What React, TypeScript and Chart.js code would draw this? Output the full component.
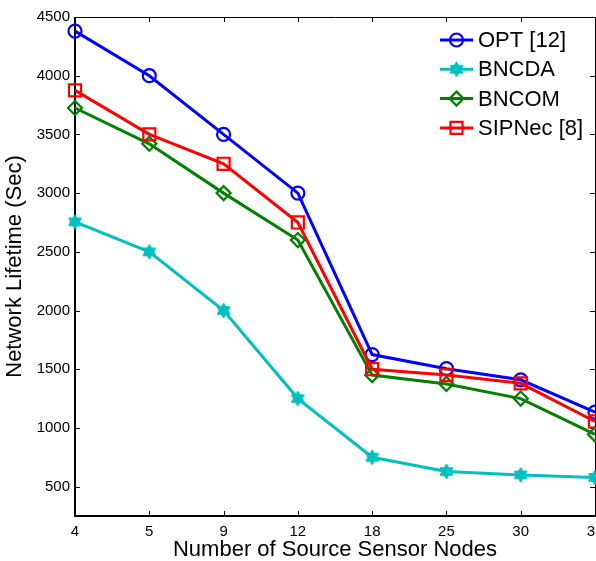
import React, { useEffect, useRef } from 'react';
import { Chart, registerables } from 'chart.js';
import { drawPoint } from 'chart.js/helpers';

Chart.register(...registerables);

const categories = ['4', '5', '9', '12', '18', '25', '30', '35'];
const optValues = [4380, 4000, 3500, 3000, 1625, 1505, 1410, 1135];
const bncdaValues = [2755, 2500, 2000, 1250, 750, 630, 600, 578];
const bncomValues = [3725, 3420, 3000, 2600, 1450, 1375, 1250, 945];
const sipnecValues = [3875, 3500, 3250, 2750, 1500, 1450, 1380, 1055];
const yTickValues = [500, 1000, 1500, 2000, 2500, 3000, 3500, 4000, 4500];
const seriesLabels = ['OPT [12]', 'BNCDA', 'BNCOM', 'SIPNec [8]'];
const xTitle = 'Number of Source Sensor Nodes';
const yTitle = 'Network Lifetime (Sec)';

const FONT = "Arial, 'Liberation Sans', sans-serif";

function makeHexagram(color: string, r: number): HTMLCanvasElement {
  const c = document.createElement('canvas');
  const size = Math.ceil(2 * r + 2);
  c.width = size;
  c.height = size;
  const ctx = c.getContext('2d')!;
  ctx.fillStyle = color;
  ctx.strokeStyle = color;
  ctx.lineWidth = 1;
  const cx = size / 2;
  const cy = size / 2;
  for (const start of [-90, 90]) {
    ctx.beginPath();
    for (let k = 0; k < 3; k++) {
      const a = ((start + k * 120) * Math.PI) / 180;
      const x = cx + r * Math.cos(a);
      const y = cy + r * Math.sin(a);
      if (k === 0) ctx.moveTo(x, y);
      else ctx.lineTo(x, y);
    }
    ctx.closePath();
    ctx.fill();
    ctx.stroke();
  }
  return c;
}

const boxPlugin = {
  id: 'matlabBox',
  beforeDatasetsDraw(chart: any) {
    const { ctx, chartArea } = chart;
    const { left, right, top, bottom } = chartArea;
    const xs = chart.scales.x;
    const ys = chart.scales.y;
    const tl = 5;
    ctx.save();
    ctx.strokeStyle = '#000';
    ctx.lineWidth = 1;
    ctx.beginPath();
    ctx.rect(Math.round(left) + 0.5, Math.round(top) + 0.5, Math.round(right - left), Math.round(bottom - top));
    ctx.stroke();
    ctx.lineWidth = 2;
    ctx.beginPath();
    ctx.moveTo(Math.round(left), Math.round(top));
    ctx.lineTo(Math.round(left), Math.round(bottom));
    ctx.lineTo(Math.round(right), Math.round(bottom));
    ctx.stroke();
    ctx.lineWidth = 1;
    ctx.beginPath();
    ys.ticks.forEach((t: any) => {
      const y = Math.round(ys.getPixelForValue(t.value)) + 0.5;
      ctx.moveTo(left, y);
      ctx.lineTo(left + tl, y);
      ctx.moveTo(right, y);
      ctx.lineTo(right - tl, y);
    });
    xs.ticks.forEach((t: any, i: number) => {
      const x = Math.round(xs.getPixelForTick(i)) + 0.5;
      ctx.moveTo(x, bottom);
      ctx.lineTo(x, bottom - tl);
      ctx.moveTo(x, top);
      ctx.lineTo(x, top + tl);
    });
    ctx.stroke();
    ctx.restore();
  },
};

const legendPlugin = {
  id: 'insideLegend',
  afterDatasetsDraw(chart: any) {
    const { ctx, chartArea } = chart;
    const x1 = chartArea.right - 155;
    const x2 = chartArea.right - 122;
    const xt = chartArea.right - 117;
    const y0 = chartArea.top + 23;
    const dy = 29.3;
    ctx.save();
    chart.data.datasets.forEach((ds: any, i: number) => {
      const y = y0 + i * dy;
      ctx.strokeStyle = ds.borderColor;
      ctx.lineWidth = ds.borderWidth;
      ctx.beginPath();
      ctx.moveTo(x1, y);
      ctx.lineTo(x2, y);
      ctx.stroke();
      const mx = (x1 + x2) / 2;
      if (ds.pointStyle instanceof HTMLCanvasElement) {
        const img = ds.pointStyle;
        ctx.drawImage(img, mx - img.width / 2, y - img.height / 2);
      } else {
        ctx.strokeStyle = ds.pointBorderColor;
        ctx.fillStyle = ds.pointBackgroundColor;
        ctx.lineWidth = ds.pointBorderWidth;
        drawPoint(ctx, { pointStyle: ds.pointStyle, radius: ds.pointRadius, rotation: 0, borderWidth: ds.pointBorderWidth } as any, mx, y);
      }
      ctx.fillStyle = '#000';
      ctx.font = `22px ${FONT}`;
      ctx.textAlign = 'left';
      ctx.textBaseline = 'middle';
      ctx.fillText(ds.label, xt, y + 1);
    });
    ctx.restore();
  },
};

export default function App() {
  const ref = useRef<HTMLCanvasElement | null>(null);

  useEffect(() => {
    if (!ref.current) return;
    const hex = makeHexagram('#00BFBF', 7.5);
    const base = {
      borderWidth: 3,
      tension: 0,
      clip: false,
      pointBorderWidth: 2.2,
      pointBackgroundColor: 'rgba(0,0,0,0)',
      fill: false,
    };
    const chart = new Chart(ref.current, {
      type: 'line',
      data: {
        labels: categories,
        datasets: [
          { ...base, label: seriesLabels[0], data: optValues, borderColor: '#0000FF', pointBorderColor: '#0000FF', pointStyle: 'circle', pointRadius: 6.5, order: 4 },
          { ...base, label: seriesLabels[1], data: bncdaValues, borderColor: '#00BFBF', pointBorderColor: '#00BFBF', pointStyle: hex, pointRadius: 7.5, order: 3 },
          { ...base, label: seriesLabels[2], data: bncomValues, borderColor: '#008000', pointBorderColor: '#008000', pointStyle: 'rectRot', pointRadius: 7, order: 2 },
          { ...base, label: seriesLabels[3], data: sipnecValues, borderColor: '#FF0000', pointBorderColor: '#FF0000', pointStyle: 'rect', pointRadius: 8.5, order: 1 },
        ] as any,
      },
      options: {
        responsive: false,
        animation: false,
        events: [],
        layout: { padding: { top: 17, right: 25, left: 0, bottom: 0 } },
        plugins: { legend: { display: false }, tooltip: { enabled: false } },
        scales: {
          x: {
            type: 'category',
            offset: false,
            grid: { display: false, drawTicks: false },
            border: { display: false },
            ticks: { font: { family: FONT, size: 15 }, color: '#000', padding: 7, maxRotation: 0, autoSkip: false },
            title: { display: true, text: xTitle, font: { family: FONT, size: 22 }, color: '#000', padding: { top: 0, bottom: -2 } },
            afterFit: (s: any) => { s.height = 45; },
          },
          y: {
            type: 'linear',
            min: 250,
            max: 4500,
            afterBuildTicks: (s: any) => { s.ticks = yTickValues.map((v) => ({ value: v })); },
            grid: { display: false, drawTicks: false },
            border: { display: false },
            ticks: { font: { family: FONT, size: 15 }, color: '#000', padding: 5, callback: (v: any) => String(v) },
            title: { display: true, text: yTitle, font: { family: FONT, size: 22 }, color: '#000', padding: { top: 2, bottom: 0 } },
            afterFit: (s: any) => { s.width = 75; },
          },
        },
      } as any,
      plugins: [boxPlugin, legendPlugin],
    });
    return () => chart.destroy();
  }, []);

  return (
    <div style={{ position: 'fixed', left: 0, top: 0, width: 596, height: 561, overflow: 'hidden', background: '#fff' }}>
      <canvas ref={ref} width={620} height={561} style={{ display: 'block' }} />
    </div>
  );
}
